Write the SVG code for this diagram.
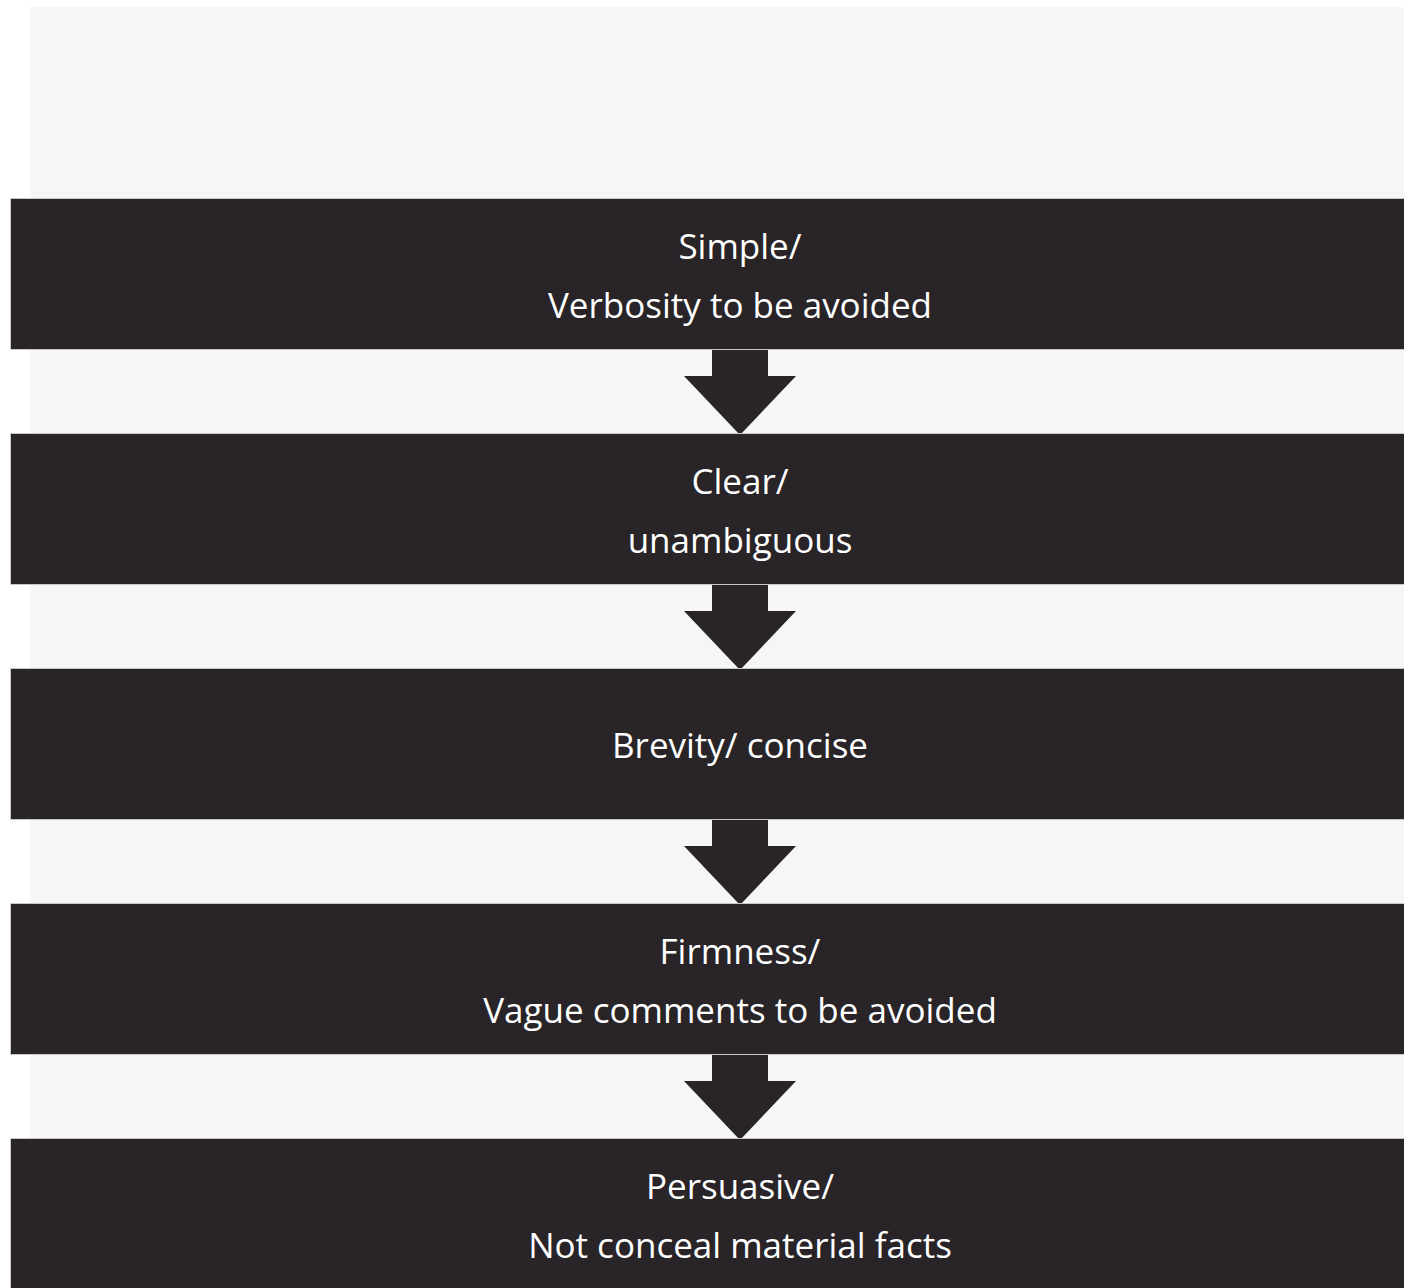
<svg xmlns="http://www.w3.org/2000/svg" width="1404" height="1288" viewBox="0 0 1404 1288">
  <style>
    .box { fill: #282427; stroke: #c8c8c8; stroke-width: 1; }
    .arrow { fill: #282427; }
    .label { fill: #ffffff; font-family: "Open Sans", "Noto Sans", "Liberation Sans", sans-serif; font-size: 35px; text-anchor: middle; }
  </style>
  <rect x="0" y="0" width="1404" height="1288" fill="#ffffff"/>
  <rect x="30" y="7" width="1374" height="1281" fill="#f6f6f6"/>

  <g id="connectors">
    <path class="arrow" d="M712,350 H768 V376 H796 L740,435 L684,376 H712 Z"/>
    <path class="arrow" d="M712,585 H768 V611 H796 L740,670 L684,611 H712 Z"/>
    <path class="arrow" d="M712,820 H768 V846 H796 L740,905 L684,846 H712 Z"/>
    <path class="arrow" d="M712,1055 H768 V1081 H796 L740,1140 L684,1081 H712 Z"/>
  </g>

  <g id="node-simple">
    <rect class="box" x="10.5" y="198.5" width="1400" height="151"/>
    <text class="label" x="740" y="259">Simple/</text>
    <text class="label" x="740" y="318">Verbosity to be avoided</text>
  </g>
  <g id="node-clear">
    <rect class="box" x="10.5" y="433.5" width="1400" height="151"/>
    <text class="label" x="740" y="494">Clear/</text>
    <text class="label" x="740" y="553">unambiguous</text>
  </g>
  <g id="node-brevity">
    <rect class="box" x="10.5" y="668.5" width="1400" height="151"/>
    <text class="label" x="740" y="758">Brevity/ concise</text>
  </g>
  <g id="node-firmness">
    <rect class="box" x="10.5" y="903.5" width="1400" height="151"/>
    <text class="label" x="740" y="964">Firmness/</text>
    <text class="label" x="740" y="1023">Vague comments to be avoided</text>
  </g>
  <g id="node-persuasive">
    <rect class="box" x="10.5" y="1138.5" width="1400" height="160"/>
    <text class="label" x="740" y="1199">Persuasive/</text>
    <text class="label" x="740" y="1258">Not conceal material facts</text>
  </g>
</svg>
